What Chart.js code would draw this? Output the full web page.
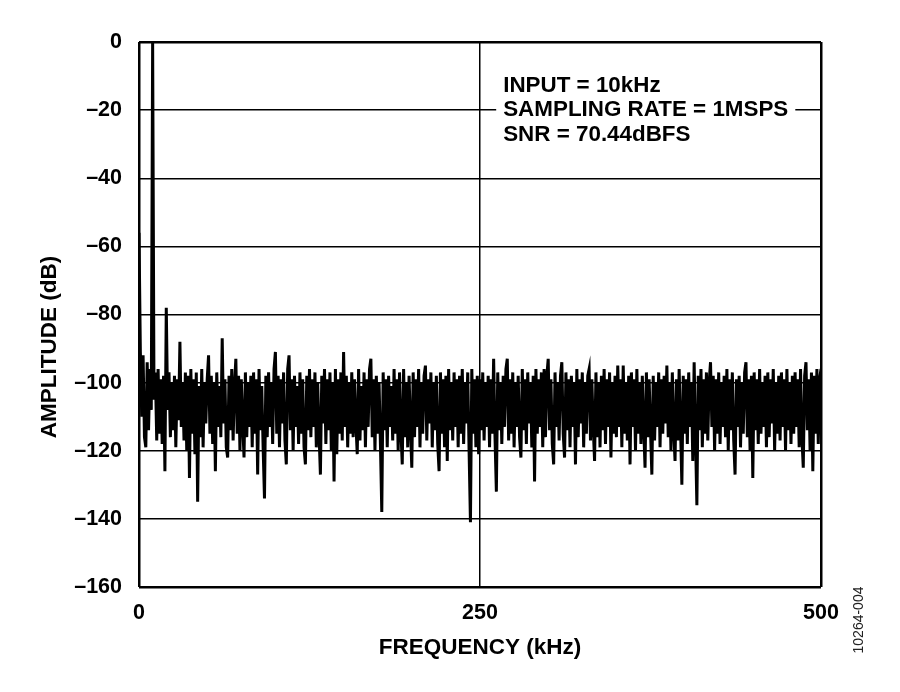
<!DOCTYPE html>
<html>
<head>
<meta charset="utf-8">
<title>FFT plot</title>
<script src="https://cdn.jsdelivr.net/npm/chart.js@4.4.0/dist/chart.umd.min.js"></script>
<style>
  body { margin: 0; background: #fff; }
  canvas { display: block; }
</style>
</head>
<body>
<canvas id="fftChart" width="900" height="692"></canvas>
<script>
// one bin per kHz, 0..500 kHz
const binStepKHz = 1;
const amplitudeDb = [
  -56, -91, -110, -92, -116, -119, -94, -114, -96, -108, 0, -105, -97, -117, -96, -115, -99, -118, -98, -126, -78, -108, -97, -116, -100,
  -114, -98, -119, -99, -111, -88, -113, -100, -117, -97, -120, -98, -128, -96, -115, -99, -121, -97, -135, -101, -116, -96, -119, -100, -112,
  -99, -92, -115, -98, -118, -100, -126, -97, -113, -101, -116, -87, -112, -99, -119, -122, -98, -114, -96, -117, -101, -93, -115, -98, -120,
  -99, -112, -122, -97, -116, -100, -113, -98, -119, -97, -115, -99, -127, -96, -114, -101, -119, -134, -98, -116, -97, -113, -100, -118, -96,
  -91, -115, -98, -119, -99, -112, -97, -117, -124, -96, -92, -114, -99, -120, -98, -113, -101, -118, -97, -115, -99, -119, -124, -98, -114,
  -96, -116, -99, -113, -97, -119, -100, -115, -127, -98, -112, -96, -118, -99, -114, -97, -120, -100, -129, -96, -121, -99, -115, -97, -117,
  -91, -113, -98, -119, -100, -115, -97, -116, -99, -112, -121, -96, -117, -101, -114, -97, -119, -99, -113, -96, -93, -116, -99, -120, -98,
  -115, -100, -118, -138, -97, -114, -99, -119, -98, -113, -101, -117, -96, -115, -99, -120, -97, -114, -124, -96, -116, -100, -119, -98, -113,
  -125, -97, -116, -99, -113, -96, -119, -100, -115, -98, -95, -117, -99, -112, -97, -119, -100, -114, -98, -118, -126, -97, -115, -99, -119,
  -98, -123, -96, -114, -100, -117, -97, -113, -99, -119, -98, -115, -96, -118, -100, -112, -97, -120, -141, -96, -115, -99, -119, -98, -121,
  -99, -114, -97, -117, -100, -113, -98, -119, -99, -115, -93, -116, -132, -97, -114, -100, -118, -98, -113, -96, -93, -117, -99, -115, -97,
  -119, -100, -113, -98, -116, -122, -96, -114, -99, -118, -97, -112, -100, -119, -98, -129, -96, -115, -99, -113, -97, -119, -96, -116, -98,
  -93, -114, -99, -118, -124, -97, -113, -100, -117, -98, -94, -115, -122, -97, -114, -99, -119, -98, -113, -100, -124, -96, -116, -99, -112,
  -97, -119, -100, -115, -98, -96, -117, -99, -113, -123, -97, -116, -100, -119, -98, -114, -96, -118, -99, -113, -97, -122, -100, -115, -98,
  -116, -95, -113, -99, -119, -95, -115, -100, -117, -98, -124, -97, -113, -99, -120, -96, -115, -100, -118, -98, -113, -125, -97, -116, -99,
  -114, -127, -98, -117, -100, -113, -97, -119, -99, -115, -98, -112, -95, -116, -100, -120, -97, -114, -123, -99, -117, -96, -113, -130, -98,
  -115, -99, -118, -97, -113, -100, -123, -94, -116, -136, -98, -114, -96, -119, -99, -115, -97, -117, -100, -94, -113, -98, -120, -99, -115,
  -97, -118, -100, -113, -98, -116, -96, -120, -99, -114, -97, -117, -127, -99, -113, -98, -119, -100, -115, -97, -94, -116, -99, -120, -98,
  -128, -97, -114, -99, -118, -96, -115, -100, -113, -98, -119, -97, -116, -99, -112, -96, -120, -100, -115, -98, -117, -97, -113, -99, -120,
  -96, -114, -100, -118, -98, -115, -97, -113, -99, -119, -96, -116, -125, -98, -94, -114, -99, -120, -97, -126, -98, -115, -96, -118, -99,
  -96
];
const xTickValues = [0, 250, 500];
const yMin = -160;
const yMax = 0;
const yStep = 20;
const noteLines = ['INPUT = 10kHz', 'SAMPLING RATE = 1MSPS', 'SNR = 70.44dBFS'];
const yTitle = 'AMPLITUDE (dB)';
const figureId = '10264-004';

const fontFamily = '"Liberation Sans", Arial, Helvetica, sans-serif';

const points = amplitudeDb.map((v, i) => ({ x: i * binStepKHz, y: v }));

// boxed frame: edge grid lines a bit heavier than inner ones
const edgeWidth = (value, a, b) => (value === a || value === b ? 2.5 : 1.5);

const notesPlugin = {
  id: 'notes',
  afterDraw(chart) {
    const { ctx } = chart;
    const xs = chart.scales.x;
    const ys = chart.scales.y;
    const left = xs.getPixelForValue(267);
    const mid = ys.getPixelForValue(-20);
    ctx.save();
    ctx.font = 'bold 22.4px ' + fontFamily;
    ctx.textBaseline = 'middle';
    ctx.textAlign = 'left';
    // white box so the -20 grid line stops at the text
    const w = ctx.measureText(noteLines[1]).width;
    ctx.fillStyle = '#fff';
    ctx.fillRect(left - 7, mid - 11, w + 14, 22);
    ctx.fillStyle = '#000';
    noteLines.forEach((t, i) => {
      ctx.fillText(t, left, mid + (i - 1) * 24.5);
    });
    ctx.restore();

    // y axis title, sits a little below the middle in the original
    ctx.save();
    ctx.font = 'bold 22.5px ' + fontFamily;
    ctx.fillStyle = '#000';
    ctx.textAlign = 'center';
    ctx.textBaseline = 'middle';
    ctx.translate(50, 347);
    ctx.rotate(-Math.PI / 2);
    ctx.fillText(yTitle, 0, 0);
    ctx.restore();

    // figure number down the right side
    ctx.save();
    ctx.font = '14px ' + fontFamily;
    ctx.fillStyle = '#222';
    ctx.textAlign = 'center';
    ctx.textBaseline = 'middle';
    ctx.translate(859, 620);
    ctx.rotate(-Math.PI / 2);
    ctx.fillText(figureId, 0, 0);
    ctx.restore();
  }
};

new Chart(document.getElementById('fftChart').getContext('2d'), {
  type: 'line',
  data: {
    datasets: [{
      data: points,
      borderColor: '#000',
      borderWidth: 3,
      pointRadius: 0,
      tension: 0,
      fill: false
    }]
  },
  options: {
    responsive: false,
    animation: false,
    layout: { padding: { left: 0, top: 42, right: 79, bottom: 0 } },
    plugins: { legend: { display: false }, tooltip: { enabled: false } },
    scales: {
      x: {
        type: 'linear',
        min: 0,
        max: 500,
        afterFit: s => { s.height = 105; },
        afterBuildTicks: axis => { axis.ticks = xTickValues.map(v => ({ value: v })); },
        grid: {
          color: '#000',
          lineWidth: c => edgeWidth(c.tick.value, 0, 500),
          drawTicks: false
        },
        border: { display: false },
        ticks: {
          color: '#000',
          padding: 13,
          maxRotation: 0,
          font: { family: fontFamily, size: 21.5, weight: 'bold' }
        },
        title: {
          display: true,
          text: 'FREQUENCY (kHz)',
          color: '#000',
          font: { family: fontFamily, size: 22.5, weight: 'bold' },
          padding: { top: 0, bottom: 31 }
        }
      },
      y: {
        min: yMin,
        max: yMax,
        afterFit: s => { s.width = 139; },
        grid: {
          color: '#000',
          lineWidth: c => edgeWidth(c.tick.value, yMin, yMax),
          drawTicks: false
        },
        border: { display: false },
        ticks: {
          stepSize: yStep,
          color: '#000',
          padding: 17,
          font: { family: fontFamily, size: 21.5, weight: 'bold' },
          callback: v => (v < 0 ? '\u2013' + Math.abs(v) : String(v))
        },
        title: { display: false }
      }
    }
  },
  plugins: [notesPlugin]
});
</script>
</body>
</html>
